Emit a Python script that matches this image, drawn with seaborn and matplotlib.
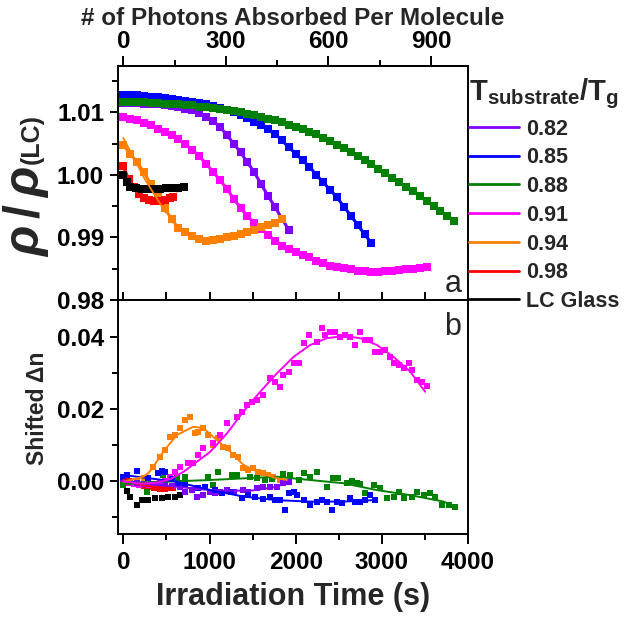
import matplotlib
matplotlib.use("Agg")
import matplotlib.pyplot as plt
import seaborn as sns
from matplotlib.lines import Line2D
from matplotlib.ticker import FixedLocator, FormatStrFormatter

# ---------------- data: panel a (rho / rho_LC) ----------------
t_082 = [0, 80, 160, 240, 320, 400, 480, 560, 640, 720, 800, 880, 960, 1040, 1120, 1200,
         1280, 1360, 1440, 1520, 1600, 1680, 1760, 1840, 1920]
a_082 = [1.0115, 1.0115, 1.0115, 1.0114, 1.0114, 1.0113, 1.0112, 1.0110, 1.0109, 1.0106,
         1.0104, 1.0099, 1.0093, 1.0086, 1.0077, 1.0064, 1.0050, 1.0036, 1.0020, 1.0004,
         0.9985, 0.9966, 0.9949, 0.9930, 0.9912]

t_085 = [0, 80, 160, 240, 320, 400, 480, 560, 640, 720, 800, 880, 960, 1040, 1120, 1200,
         1280, 1360, 1440, 1520, 1600, 1680, 1760, 1840, 1920, 2000, 2080, 2160, 2240, 2320,
         2400, 2480, 2560, 2640, 2720, 2800, 2880]
a_085 = [1.0128, 1.0128, 1.0127, 1.0126, 1.0125, 1.0124, 1.0123, 1.0122, 1.0120, 1.0118,
         1.0116, 1.0115, 1.0113, 1.0110, 1.0107, 1.0104, 1.0100, 1.0096, 1.0091, 1.0085,
         1.0080, 1.0073, 1.0066, 1.0055, 1.0044, 1.0034, 1.0023, 1.0013, 1.0000, 0.9988,
         0.9976, 0.9964, 0.9949, 0.9935, 0.9920, 0.9905, 0.9891]

t_088 = [0, 80, 160, 240, 320, 400, 480, 560, 640, 720, 800, 880, 960, 1040, 1120, 1200,
         1280, 1360, 1440, 1520, 1600, 1680, 1760, 1840, 1920, 2000, 2080, 2160, 2240, 2320,
         2400, 2480, 2560, 2640, 2720, 2800, 2880, 2960, 3040, 3120, 3200, 3280, 3360, 3440,
         3520, 3600, 3680, 3760, 3840]
a_088 = [1.0117, 1.0117, 1.0116, 1.0116, 1.0115, 1.0115, 1.0114, 1.0113, 1.0113, 1.0112,
         1.0111, 1.0109, 1.0108, 1.0107, 1.0106, 1.0104, 1.0102, 1.0100, 1.0098, 1.0095,
         1.0093, 1.0090, 1.0087, 1.0084, 1.0080, 1.0077, 1.0073, 1.0069, 1.0065, 1.0059,
         1.0054, 1.0048, 1.0043, 1.0037, 1.0030, 1.0023, 1.0017, 1.0010, 1.0003, 0.9995,
         0.9988, 0.9981, 0.9974, 0.9966, 0.9958, 0.9950, 0.9942, 0.9935, 0.9927]

t_091 = [0, 80, 160, 240, 320, 400, 480, 560, 640, 720, 800, 880, 960, 1040, 1120, 1200,
         1280, 1360, 1440, 1520, 1600, 1680, 1760, 1840, 1920, 2000, 2080, 2160, 2240, 2320,
         2400, 2480, 2560, 2640, 2720, 2800, 2880, 2960, 3040, 3120, 3200, 3280, 3360, 3440,
         3520]
a_091 = [1.0093, 1.0090, 1.0087, 1.0083, 1.0079, 1.0074, 1.0069, 1.0064, 1.0057, 1.0049,
         1.0040, 1.0030, 1.0018, 1.0005, 0.9992, 0.9978, 0.9962, 0.9947, 0.9934, 0.9923,
         0.9914, 0.9904, 0.9895, 0.9887, 0.9881, 0.9877, 0.9872, 0.9868, 0.9863, 0.9859,
         0.9855, 0.9853, 0.9851, 0.9849, 0.9847, 0.9846, 0.9845, 0.9845, 0.9846, 0.9847,
         0.9848, 0.9849, 0.9850, 0.9851, 0.9852]

t_094 = [0, 80, 160, 240, 320, 400, 480, 560, 640, 720, 800, 880, 960, 1040, 1120, 1200,
         1280, 1360, 1440, 1520, 1600, 1680, 1760, 1840]
a_094 = [1.0047, 1.0034, 1.0020, 1.0004, 0.9985, 0.9966, 0.9947, 0.9929, 0.9915, 0.9908,
         0.9902, 0.9897, 0.9894, 0.9896, 0.9898, 0.9901, 0.9903, 0.9905, 0.9908, 0.9912,
         0.9916, 0.9920, 0.9923, 0.9929]
t_094_fit = [0, 250, 490]
a_094_fit = [1.0059, 0.9993, 0.9940]

t_098 = [0, 60, 120, 180, 240, 300, 360, 420, 480, 540, 580]
a_098 = [1.0014, 0.9993, 0.9980, 0.9970, 0.9963, 0.9960, 0.9959, 0.9959, 0.9960, 0.9963, 0.9965]

t_lc = [0, 40, 80, 150, 220, 290, 360, 430, 500, 570, 640, 700]
a_lc = [1.0000, 0.9988, 0.9981, 0.9979, 0.9978, 0.9978, 0.9978, 0.9978, 0.9979, 0.9979, 0.9979, 0.9980]

# ---------------- data: panel b (shifted delta n) ----------------
bt_082 = [0, 80, 160, 240, 320, 400, 480, 560, 658, 720, 794, 852, 929, 1000, 1065, 1123,
          1201, 1280, 1394, 1452, 1549, 1626, 1700, 1781, 1858, 1917]
bn_082 = [0.0000, -0.0004, -0.0006, -0.0008, -0.0009, -0.0010, -0.0012, -0.0014, -0.0017, -0.0030,
          -0.0026, -0.0044, -0.0040, -0.0030, -0.0035, -0.0030, -0.0026, -0.0032, -0.0026, -0.0030,
          -0.0021, -0.0017, -0.0017, -0.0017, -0.0007, -0.0003]
ft_082 = [0, 300, 600, 900, 1200, 1500, 1750, 1930]
fn_082 = [0.0000, -0.0008, -0.0016, -0.0024, -0.0028, -0.0027, -0.0018, -0.0005]

bt_085 = [0, 39, 155, 290, 407, 446, 484, 560, 640, 720, 871, 950, 1065, 1150, 1250, 1375,
          1450, 1530, 1620, 1700, 1762, 1820, 1878, 1917, 1975, 2014, 2091, 2168, 2246, 2304,
          2362, 2420, 2478, 2536, 2633, 2691, 2749, 2807, 2857, 2915]
bn_085 = [0.0010, 0.0016, 0.0028, 0.0008, 0.0021, 0.0028, 0.0023, 0.0005, -0.0005, -0.0010,
          -0.0021, -0.0018, -0.0026, -0.0035, -0.0030, -0.0049, -0.0040, -0.0044, -0.0050, -0.0045,
          -0.0054, -0.0054, -0.0081, -0.0035, -0.0030, -0.0040, -0.0054, -0.0068, -0.0058, -0.0054,
          -0.0058, -0.0080, -0.0058, -0.0063, -0.0049, -0.0058, -0.0058, -0.0054, -0.0040, -0.0054]
ft_085 = [0, 620, 1007, 1394, 1781, 2168, 2555, 2904]
fn_085 = [0.0016, -0.0003, -0.0026, -0.0044, -0.0054, -0.0058, -0.0058, -0.0054]

bt_088 = [0, 78, 271, 465, 620, 716, 871, 987, 1045, 1103, 1259, 1317, 1472, 1550, 1646, 1720,
          1858, 1936, 2033, 2091, 2168, 2246, 2362, 2439, 2497, 2594, 2650, 2711, 2750, 2807,
          2904, 2981, 3059, 3136, 3194, 3252, 3350, 3408, 3484, 3562, 3620, 3698, 3775, 3852]
bn_088 = [-0.0012, -0.0003, -0.0030, 0.0016, 0.0007, 0.0011, -0.0021, 0.0011, -0.0012, 0.0025,
          0.0016, 0.0016, 0.0011, 0.0008, 0.0002, 0.0005, 0.0019, 0.0016, 0.0002, 0.0021,
          0.0011, 0.0025, -0.0017, 0.0007, 0.0007, -0.0007, 0.0000, -0.0007, -0.0010, -0.0035,
          -0.0012, -0.0021, -0.0049, -0.0044, -0.0030, -0.0049, -0.0044, -0.0030, -0.0040, -0.0035,
          -0.0044, -0.0067, -0.0067, -0.0074]
ft_088 = [0, 1007, 1781, 2168, 2555, 2943, 3330, 3717, 3872]
fn_088 = [-0.0007, 0.0002, 0.0011, 0.0002, -0.0007, -0.0026, -0.0040, -0.0058, -0.0074]

bt_091 = [0, 60, 120, 180, 240, 300, 360, 420, 480, 540, 600, 658, 755, 813, 871, 929, 1045,
          1123, 1201, 1317, 1375, 1433, 1491, 1549, 1626, 1704, 1762, 1820, 1858, 1917, 1975,
          2033, 2091, 2149, 2246, 2304, 2343, 2401, 2459, 2517, 2575, 2633, 2691, 2749, 2807,
          2865, 2923, 2981, 3039, 3097, 3136, 3194, 3252, 3310, 3350, 3408, 3466, 3524]
bn_091 = [0.0000, -0.0005, -0.0008, -0.0012, -0.0010, -0.0012, -0.0010, -0.0006, -0.0002, 0.0010,
          0.0025, 0.0039, 0.0048, 0.0050, 0.0071, 0.0090, 0.0104, 0.0127, 0.0159, 0.0178,
          0.0192, 0.0210, 0.0219, 0.0224, 0.0238, 0.0284, 0.0275, 0.0261, 0.0294, 0.0303,
          0.0326, 0.0326, 0.0382, 0.0405, 0.0386, 0.0423, 0.0405, 0.0414, 0.0414, 0.0400,
          0.0405, 0.0400, 0.0377, 0.0414, 0.0391, 0.0391, 0.0358, 0.0358, 0.0363, 0.0344,
          0.0326, 0.0321, 0.0312, 0.0326, 0.0307, 0.0280, 0.0275, 0.0263]
ft_091 = [0, 200, 400, 550, 700, 850, 1007, 1201, 1394, 1588, 1781, 1975, 2168, 2362, 2555,
          2749, 2943, 3136, 3330, 3504]
fn_091 = [-0.0002, -0.0008, -0.0005, 0.0005, 0.0025, 0.0052, 0.0080, 0.0131, 0.0192, 0.0247,
          0.0298, 0.0344, 0.0377, 0.0396, 0.0402, 0.0396, 0.0377, 0.0344, 0.0303, 0.0247]

bt_094 = [0, 80, 160, 240, 348, 426, 484, 542, 600, 658, 716, 774, 832, 871, 929, 987, 1045,
          1103, 1161, 1220, 1278, 1336, 1394, 1452, 1510, 1568, 1626, 1684, 1742, 1820, 1897]
bn_094 = [-0.0003, -0.0005, 0.0000, 0.0008, 0.0039, 0.0067, 0.0085, 0.0122, 0.0127, 0.0146,
          0.0169, 0.0176, 0.0132, 0.0136, 0.0146, 0.0127, 0.0099, 0.0118, 0.0094, 0.0090,
          0.0071, 0.0067, 0.0034, 0.0030, 0.0034, 0.0025, 0.0021, 0.0016, 0.0011, 0.0002, -0.0003]
ft_094 = [0, 232, 290, 348, 465, 620, 813, 929, 1085, 1239, 1394, 1588, 1781, 1897]
fn_094 = [-0.0003, 0.0011, 0.0021, 0.0039, 0.0081, 0.0127, 0.0150, 0.0146, 0.0113, 0.0081,
          0.0044, 0.0021, 0.0007, 0.0002]

bt_098 = [0, 60, 120, 180, 240, 300, 360, 420, 480, 540, 580]
bn_098 = [0.0005, -0.0002, -0.0008, -0.0012, -0.0016, -0.0018, -0.0020, -0.0022, -0.0022, -0.0021, -0.0020]
ft_098 = [0, 150, 300, 450, 580]
fn_098 = [0.0003, -0.0008, -0.0015, -0.0019, -0.0020]

bt_lc = [0, 40, 80, 155, 213, 290, 368, 446, 523, 600, 658]
bn_lc = [0.0000, -0.0028, -0.0045, -0.0068, -0.0054, -0.0054, -0.0049, -0.0049, -0.0044, -0.0044, -0.0040]

labels = ["0.82", "0.85", "0.88", "0.91", "0.94", "0.98", "LC Glass"]
colors = ["#8000FF", "#0000FF", "#008000", "#FF00FF", "#FF8000", "#FF0000", "#000000"]
photons_per_second = 0.2521

# ---------------- style ----------------
sns.set_theme(style="ticks", rc={"axes.edgecolor": "black", "axes.linewidth": 1.4,
                                 "xtick.color": "black", "ytick.color": "black",
                                 "axes.facecolor": "white"})
plt.rcParams["font.family"] = ["Liberation Sans", "DejaVu Sans"]
plt.rcParams["font.weight"] = "bold"
plt.rcParams["mathtext.fontset"] = "custom"
plt.rcParams["mathtext.rm"] = "Liberation Sans"
plt.rcParams["mathtext.it"] = "Liberation Sans:italic"
plt.rcParams["mathtext.bf"] = "Liberation Sans:bold"

W, H = 624, 621
fig = plt.figure(figsize=(W / 100, H / 100), dpi=100)
ax1 = fig.add_axes([118 / W, 1 - 300 / H, 350 / W, 234 / H])
ax2 = fig.add_axes([118 / W, 1 - 534 / H, 350 / W, 234 / H])

# ---------------- panel a ----------------
series_a = [(t_082, a_082), (t_085, a_085), (t_088, a_088), (t_091, a_091),
            (t_094, a_094), (t_098, a_098), (t_lc, a_lc)]
for (t, a), c in zip(series_a, colors):
    sns.lineplot(x=t, y=a, ax=ax1, color=c, marker="s", markersize=5.6,
                 markeredgewidth=0, linewidth=2.2, sort=False, legend=False)
sns.lineplot(x=t_094_fit, y=a_094_fit, ax=ax1, color=colors[4], linewidth=1.3,
             sort=False, legend=False)

# ---------------- panel b ----------------
pts_b = [(bt_lc, bn_lc, 6), (bt_098, bn_098, 5), (bt_094, bn_094, 4), (bt_091, bn_091, 3),
         (bt_082, bn_082, 0), (bt_088, bn_088, 2), (bt_085, bn_085, 1)]
for t, n, ci in pts_b:
    sns.scatterplot(x=t, y=n, ax=ax2, color=colors[ci], marker="s", s=22,
                    linewidth=0, legend=False)
fits_b = [(ft_098, fn_098, 5), (ft_082, fn_082, 0), (ft_088, fn_088, 2),
          (ft_085, fn_085, 1), (ft_094, fn_094, 4), (ft_091, fn_091, 3)]
for t, n, ci in fits_b:
    sns.lineplot(x=t, y=n, ax=ax2, color=colors[ci], linewidth=1.4, sort=False, legend=False)

# ---------------- axes formatting ----------------
TICK_FS = 17.5
for ax in (ax1, ax2):
    ax.set_xlim(-62, 4000)
    ax.set_xlabel("")
    ax.set_ylabel("")
    for s in ax.spines.values():
        s.set_visible(True)
        s.set_linewidth(1.4)
        s.set_color("black")

ax1.set_ylim(0.98, 1.0174)
ax1.yaxis.set_major_locator(FixedLocator([0.98, 0.99, 1.00, 1.01]))
ax1.yaxis.set_minor_locator(FixedLocator([0.985, 0.995, 1.005, 1.015]))
ax1.yaxis.set_major_formatter(FormatStrFormatter("%.2f"))
ax1.xaxis.set_major_locator(FixedLocator([0, 500, 1000, 1500, 2000, 2500, 3000, 3500]))
ax1.tick_params(axis="x", which="major", bottom=True, top=False, direction="inout",
                length=12, width=1.4, labelbottom=False)
ax1.tick_params(axis="y", which="major", direction="out", length=6, width=1.4,
                labelsize=TICK_FS, pad=4)
ax1.tick_params(axis="y", which="minor", left=True, direction="out", length=4, width=1.4)

ax2.set_ylim(-0.0148, 0.0502)
ax2.yaxis.set_major_locator(FixedLocator([0.0, 0.02, 0.04]))
ax2.yaxis.set_minor_locator(FixedLocator([-0.01, 0.01, 0.03]))
ax2.yaxis.set_major_formatter(FormatStrFormatter("%.2f"))
ax2.xaxis.set_major_locator(FixedLocator([0, 1000, 2000, 3000, 4000]))
ax2.xaxis.set_minor_locator(FixedLocator([500, 1500, 2500, 3500]))
ax2.tick_params(axis="x", which="major", direction="out", length=7, width=1.4,
                labelsize=TICK_FS, pad=5)
ax2.tick_params(axis="x", which="minor", bottom=True, direction="out", length=4, width=1.4)
ax2.tick_params(axis="y", which="major", direction="out", length=6, width=1.4,
                labelsize=TICK_FS, pad=4)
ax2.tick_params(axis="y", which="minor", left=True, direction="out", length=4, width=1.4)
ax2.set_xlabel("Irradiation Time (s)", fontsize=22, fontweight="bold", labelpad=6)

# secondary (top) axis: photons absorbed per molecule
sec = ax1.secondary_xaxis("top", functions=(lambda t: t * photons_per_second,
                                            lambda p: p / photons_per_second))
sec.xaxis.set_major_locator(FixedLocator([0, 300, 600, 900]))
sec.xaxis.set_minor_locator(FixedLocator([150, 450, 750]))
sec.tick_params(axis="x", which="major", direction="out", length=7, width=1.4,
                labelsize=TICK_FS, pad=2)
sec.tick_params(axis="x", which="minor", direction="out", length=4, width=1.4)
sec.set_xlabel("# of Photons Absorbed Per Molecule", fontsize=17.5, fontweight="bold", labelpad=4)
sec.spines["top"].set_linewidth(1.4)

# panel letters
ax1.text(0.958, 0.07, "a", transform=ax1.transAxes, fontsize=22, fontweight="normal",
         ha="center", va="center")
ax2.text(0.955, 0.885, "b", transform=ax2.transAxes, fontsize=22, fontweight="normal",
         ha="center", va="center")

# y labels
t_rho = fig.text(39 / W, 1 - 257 / H, r"$\rho\,/\,\rho$", fontsize=36, rotation=90,
                 rotation_mode="anchor", ha="left", va="baseline")
fig.canvas.draw()
bb = t_rho.get_window_extent()
fig.text(39 / W, (bb.y1 + 2) / H, "(LC)", fontsize=18, fontweight="bold", rotation=90,
         rotation_mode="anchor", ha="left", va="baseline")
fig.text(37 / W, 1 - 408 / H, "Shifted Δn", fontsize=16.5, fontweight="bold", rotation=90,
         ha="center", va="center")

# legend
handles = [Line2D([], [], color=c, linewidth=2) for c in colors]
leg = fig.legend(handles, labels, title=r"$\mathbf{T_{substrate}/T_g}$",
                 loc="upper left", bbox_to_anchor=(467 / W, 1 - 74 / H),
                 bbox_transform=fig.transFigure, frameon=False,
                 prop={"size": 15.5, "weight": "bold"}, title_fontsize=21,
                 handlelength=2.3, handletextpad=0.35, labelspacing=0.36,
                 borderpad=0.1, borderaxespad=0, alignment="left")

fig.savefig("out.png", dpi=100)
